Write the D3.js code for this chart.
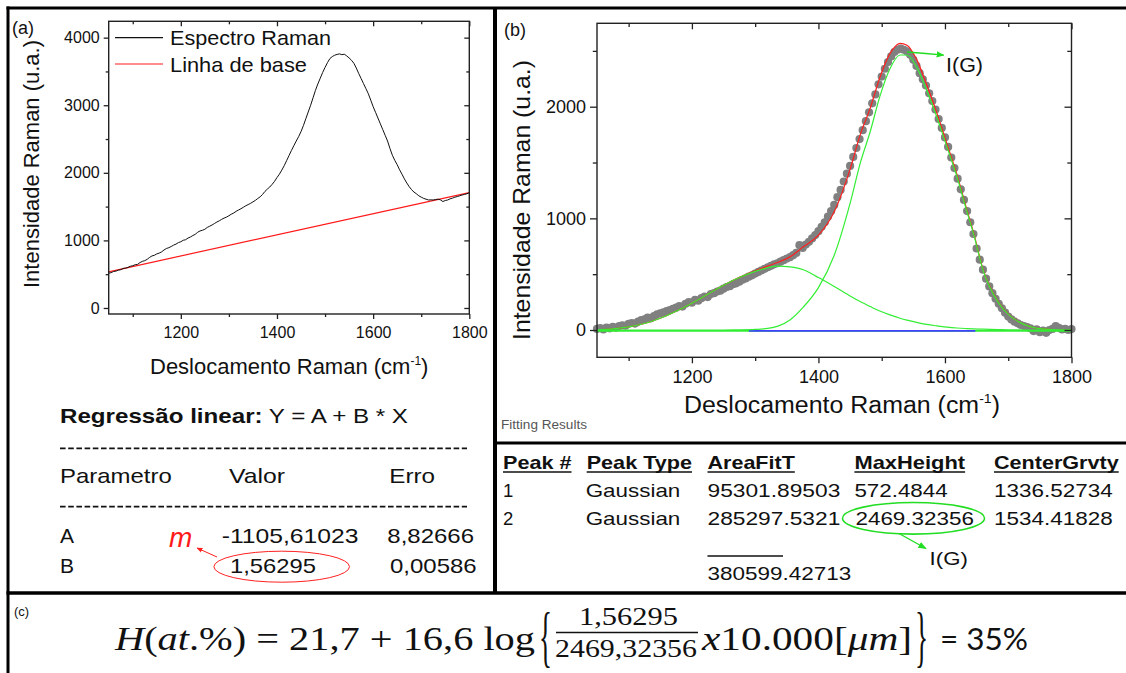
<!DOCTYPE html>
<html><head><meta charset="utf-8">
<script src="https://cdn.jsdelivr.net/npm/d3@7"></script>
<style>
body{margin:0;background:#fff}
svg{display:block}
text{font-family:"Liberation Sans",Arial,sans-serif}
</style>
</head><body>
<svg id="c" width="1126" height="673"></svg>
<script>
// ---------------- DATA ----------------
const xGrid = d3.range(1050, 1801, 5); // Raman shift grid (cm-1)
const spectrumA = [
515,522,540,545,560,566,585,590,600,618,
625,640,645,672,690,700,720,748,770,780,
800,812,830,858,880,892,910,930,945,968,
980,1002,1010,1035,1050,1072,1090,1120,1140,1150,
1165,1192,1210,1228,1250,1272,1290,1312,1330,1345,
1365,1388,1405,1430,1450,1468,1490,1512,1530,1548,
1570,1592,1620,1645,1680,1725,1760,1790,1830,1875,
1930,1980,2040,2105,2180,2255,2330,2400,2470,2535,
2610,2700,2800,2900,3000,3110,3220,3315,3400,3485,
3560,3630,3690,3720,3740,3752,3760,3748,3755,3730,
3700,3665,3620,3550,3470,3395,3320,3245,3170,3075,
2980,2895,2810,2725,2640,2555,2470,2360,2260,2185,
2120,2045,1980,1910,1850,1795,1750,1715,1690,1660,
1640,1622,1610,1598,1600,1598,1605,1610,1600,1575,
1590,1598,1615,1625,1640,1648,1660,1672,1680,1690,
1705];
const baselineX = [1050, 1800];
const baselineY = [535.5, 1707.7];

const scatterB = [
10,18,5,22,15,28,20,35,42,38,
55,62,58,75,88,95,110,105,125,140,
150,158,170,178,190,200,215,210,235,250,
245,270,262,285,300,295,322,330,345,352,
370,385,392,410,418,432,450,462,478,490,
505,520,535,548,562,575,588,598,612,625,
640,652,670,690,760,735,765,790,820,850,
885,925,965,1015,1065,1120,1190,1255,1330,1400,
1470,1550,1630,1710,1790,1870,1950,2030,2110,2200,
2270,2340,2400,2450,2490,2510,2520,2510,2495,2465,
2420,2365,2300,2245,2190,2120,2050,1975,1890,1810,
1725,1640,1545,1450,1355,1260,1165,1065,965,860,
730,630,540,460,390,330,280,235,195,155,
120,95,75,60,45,35,25,15,-10,5,
-20,-5,-25,0,10,35,20,5,10,0,
8];
const fitX  = [1050,1075,1100,1125,1150,1175,1200,1225,1250,1275,1300,1320,1336,1355,1376,1400,1425,1450,1466,1482,1497,1513,1529,1540,1555,1571,1587,1603,1619,1634,1645,1660,1684,1700,1716,1747,1780,1800];
const peak1 = [2,10,28,58,105,168,240,320,400,470,525,558,572,565,540,470,390,305,255,210,170,135,105,88,68,50,37,26,18,13,10,7,4,2,1,0,0,0];
const peak2 = [0,0,0,0,0,0,0,0,0,1,5,14,35,90,205,380,670,1134,1493,1780,2090,2340,2463,2463,2358,2149,1910,1642,1373,1075,866,540,250,140,75,15,2,0];
const fitSum = [2,10,28,58,105,168,240,320,400,471,530,572,607,655,745,850,1060,1439,1748,1990,2260,2475,2568,2551,2426,2199,1947,1668,1391,1088,876,547,254,142,76,15,2,0];
const fitBaseX = [1050, 1800];
const fitBaseY = [-8, -8];
const blueX = [1290, 1648];
const blueY = [-8, -8];

const xTicks = [1200, 1400, 1600, 1800];
const xMinor = [1100, 1300, 1500, 1700];
const yTicksA = [0, 1000, 2000, 3000, 4000];
const yMinorA = [500, 1500, 2500, 3500];
const yTicksB = [0, 1000, 2000];
const yMinorB = [500, 1500, 2500];

const legendA = ["Espectro Raman", "Linha de base"];
const regParams = ["A", "B"];
const regValues = ["-1105,61023", "1,56295"];
const regErrors = ["8,82666", "0,00586"];
const peakHeaders = ["Peak #", "Peak Type", "AreaFitT", "MaxHeight", "CenterGrvty"];
const peakRow1 = ["1", "Gaussian", "95301.89503", "572.4844", "1336.52734"];
const peakRow2 = ["2", "Gaussian", "285297.5321", "2469.32356", "1534.41828"];
const areaTotal = "380599.42713";

// ---------------- DRAW ----------------
const svg = d3.select("#c");
svg.append("rect").attr("width",1126).attr("height",673).attr("fill","#fff");
const defs = svg.append("defs");
defs.append("marker").attr("id","arrR").attr("viewBox","0 0 10 10").attr("refX",9).attr("refY",5)
  .attr("markerWidth",6).attr("markerHeight",6).attr("orient","auto")
  .append("path").attr("d","M0,1 L10,5 L0,9 Z").attr("fill","#ff2020");
defs.append("marker").attr("id","arrG").attr("viewBox","0 0 10 10").attr("refX",9).attr("refY",5)
  .attr("markerWidth",6).attr("markerHeight",6).attr("orient","auto")
  .append("path").attr("d","M0,1 L10,5 L0,9 Z").attr("fill","#22dd22");

function T(x, y, str, o = {}) {
  const t = svg.append("text").attr("x", x).attr("y", y).text(str)
    .attr("font-size", o.size || 18).attr("fill", o.fill || "#111");
  if (o.weight) t.attr("font-weight", o.weight);
  if (o.anchor) t.attr("text-anchor", o.anchor);
  if (o.style) t.attr("font-style", o.style);
  if (o.family) t.style("font-family", o.family);
  if (o.len) t.attr("textLength", o.len).attr("lengthAdjust", "spacingAndGlyphs");
  return t;
}

function frame(x, y, opts) {
  const [x0, x1] = x.range(), [y0, y1] = y.range();
  const g = svg.append("g");
  const fmt = d => d;
  g.append("g").attr("transform", `translate(0,${y0})`)
    .call(d3.axisBottom(x).tickValues(xTicks).tickSize(opts.tb).tickPadding(opts.padX).tickFormat(fmt));
  g.append("g").attr("transform", `translate(0,${y0})`)
    .call(d3.axisBottom(x).tickValues(xMinor).tickSize(opts.tb * 0.6).tickFormat(""));
  g.append("g").attr("transform", `translate(0,${y1})`)
    .call(d3.axisTop(x).tickValues(xTicks).tickSize(-opts.tb).tickFormat(""));
  g.append("g").attr("transform", `translate(0,${y1})`)
    .call(d3.axisTop(x).tickValues(xMinor).tickSize(-opts.tb * 0.6).tickFormat(""));
  g.append("g").attr("transform", `translate(${x0},0)`)
    .call(d3.axisLeft(y).tickValues(opts.yt).tickSize(opts.tl).tickPadding(opts.padY).tickFormat(fmt));
  g.append("g").attr("transform", `translate(${x0},0)`)
    .call(d3.axisLeft(y).tickValues(opts.ym).tickSize(opts.tl * 0.6).tickFormat(""));
  g.append("g").attr("transform", `translate(${x1},0)`)
    .call(d3.axisRight(y).tickValues(opts.yt).tickSize(-opts.tl).tickFormat(""));
  g.append("g").attr("transform", `translate(${x1},0)`)
    .call(d3.axisRight(y).tickValues(opts.ym).tickSize(-opts.tl * 0.6).tickFormat(""));
  g.selectAll(".domain").remove();
  g.selectAll("line").attr("stroke", "#222").attr("stroke-width", 1.3);
  g.selectAll("text").attr("font-size", opts.fs).attr("fill", "#111")
    .style("font-family", '"Liberation Sans",Arial,sans-serif');
  g.append("rect").attr("x", x0).attr("y", y1).attr("width", x1 - x0).attr("height", y0 - y1)
    .attr("fill", "none").attr("stroke", "#222").attr("stroke-width", 1.4);
  return g;
}

// ---------- Panel (a) ----------
const xA = d3.scaleLinear().domain([1050, 1800]).range([108.7, 469.3]);
const yA = d3.scaleLinear().domain([-89, 4242]).range([314, 21.3]);
const clipA = defs.append("clipPath").attr("id", "clipA");
clipA.append("rect").attr("x", 108.7).attr("y", 21.3).attr("width", 360.6).attr("height", 292.7);

svg.append("path").attr("clip-path", "url(#clipA)")
  .datum(baselineX.map((v, i) => [v, baselineY[i]]))
  .attr("d", d3.line().x(d => xA(d[0])).y(d => yA(d[1])))
  .attr("fill", "none").attr("stroke", "#ff1a1a").attr("stroke-width", 1.2);
svg.append("path").attr("clip-path", "url(#clipA)")
  .datum(xGrid.map((v, i) => [v, spectrumA[i]]))
  .attr("d", d3.line().x(d => xA(d[0])).y(d => yA(d[1])))
  .attr("fill", "none").attr("stroke", "#111").attr("stroke-width", 1);

frame(xA, yA, {tb: 5, tl: 5, padX: 8, padY: 4, yt: yTicksA, ym: yMinorA, fs: 16});

svg.append("line").attr("x1", 115).attr("x2", 163).attr("y1", 37.7).attr("y2", 37.7).attr("stroke", "#111").attr("stroke-width", 1.2);
T(170, 44.5, legendA[0], {size: 21, len: 161});
svg.append("line").attr("x1", 115).attr("x2", 163).attr("y1", 64).attr("y2", 64).attr("stroke", "#ff1a1a").attr("stroke-width", 1.2);
T(170, 71.5, legendA[1], {size: 21, len: 137});
T(12, 34, "(a)", {size: 18});

svg.append("text").attr("transform", "translate(31.7,164) rotate(-90)")
  .attr("text-anchor", "middle").attr("dominant-baseline", "central")
  .attr("font-size", 22).attr("fill", "#111").attr("textLength", 248).attr("lengthAdjust", "spacingAndGlyphs")
  .text("Intensidade Raman (u.a.)");
const xlA = svg.append("text").attr("x", 150).attr("y", 374).attr("font-size", 22).attr("fill", "#111");
xlA.append("tspan").text("Deslocamento Raman (cm");
xlA.append("tspan").attr("dy", -9).attr("font-size", 12).text("-1");
xlA.append("tspan").attr("dy", 9).text(")");

const rg = svg.append("text").attr("x", 60).attr("y", 423).attr("font-size", 21).attr("fill", "#111")
  .attr("textLength", 348).attr("lengthAdjust", "spacingAndGlyphs");
rg.append("tspan").attr("font-weight", "bold").text("Regressão linear:");
rg.append("tspan").text(" Y = A + B * X");
[448.3, 506.7].forEach(yy => svg.append("line").attr("x1", 60).attr("x2", 467).attr("y1", yy).attr("y2", yy)
  .attr("stroke", "#111").attr("stroke-width", 1.8).attr("stroke-dasharray", "5.6,2.6"));
T(60, 483, "Parametro", {size: 21, len: 111.7});
T(229, 483, "Valor", {size: 21, len: 56});
T(389.3, 483, "Erro", {size: 21, len: 45.7});
const rowY = [542.7, 572.7];
T(60, rowY[0], regParams[0], {size: 21});
T(60, rowY[1], regParams[1], {size: 21});
T(221.7, rowY[0], regValues[0], {size: 21, len: 136.7});
T(230, rowY[1], regValues[1], {size: 21, len: 86});
T(387.3, rowY[0], regErrors[0], {size: 21, len: 86.7});
T(390, rowY[1], regErrors[1], {size: 21, len: 86.7});
T(169, 546.7, "m", {size: 28, style: "italic", fill: "#ff1a1a"});
svg.append("ellipse").attr("cx", 281.7).attr("cy", 566.7).attr("rx", 67.8).attr("ry", 15.5)
  .attr("fill", "none").attr("stroke", "#ff2020").attr("stroke-width", 1);
svg.append("line").attr("x1", 217).attr("y1", 557).attr("x2", 197).attr("y2", 548)
  .attr("stroke", "#ff2020").attr("stroke-width", 1).attr("marker-end", "url(#arrR)");

// ---------- Panel (b) ----------
const xB = d3.scaleLinear().domain([1050, 1800]).range([597, 1071.5]);
const yB = d3.scaleLinear().domain([-244.5, 2747]).range([357.3, 23.3]);
const clipB = defs.append("clipPath").attr("id", "clipB");
clipB.append("rect").attr("x", 590).attr("y", 23.3).attr("width", 488).attr("height", 334);

const gB = svg.append("g").attr("clip-path", "url(#clipB)");
gB.selectAll("circle").data(xGrid.map((v, i) => [v, scatterB[i]])).join("circle")
  .attr("cx", d => xB(d[0])).attr("cy", d => yB(d[1])).attr("r", 4.1).attr("fill", "#808080");
const lineB = d3.line().x(d => xB(d[0])).y(d => yB(d[1])).curve(d3.curveMonotoneX);
gB.append("path").datum(fitX.map((v, i) => [v, fitSum[i]])).attr("d", lineB)
  .attr("fill", "none").attr("stroke", "#ff2020").attr("stroke-width", 1.2);
gB.append("path").datum(fitBaseX.map((v, i) => [v, fitBaseY[i]])).attr("d", lineB)
  .attr("fill", "none").attr("stroke", "#33ee33").attr("stroke-width", 1.6);
gB.append("path").datum(blueX.map((v, i) => [v, blueY[i]])).attr("d", lineB)
  .attr("fill", "none").attr("stroke", "#4040ff").attr("stroke-width", 1.6);
[peak1, peak2].forEach(p => gB.append("path").datum(fitX.map((v, i) => [v, p[i]])).attr("d", lineB)
  .attr("fill", "none").attr("stroke", "#33ee33").attr("stroke-width", 1.2));

frame(xB, yB, {tb: 6, tl: 7, padX: 7, padY: 4, yt: yTicksB, ym: yMinorB, fs: 18});

T(504, 36, "(b)", {size: 18});
svg.append("text").attr("transform", "translate(521,200) rotate(-90)")
  .attr("text-anchor", "middle").attr("dominant-baseline", "central")
  .attr("font-size", 24).attr("fill", "#111").attr("textLength", 280).attr("lengthAdjust", "spacingAndGlyphs")
  .text("Intensidade Raman (u.a.)");
const xlB = svg.append("text").attr("x", 684).attr("y", 413).attr("font-size", 23).attr("fill", "#111")
  .attr("textLength", 316).attr("lengthAdjust", "spacingAndGlyphs");
xlB.append("tspan").text("Deslocamento Raman (cm");
xlB.append("tspan").attr("dy", -10).attr("font-size", 13).text("-1");
xlB.append("tspan").attr("dy", 10).text(")");

svg.append("path").attr("d", `M${xB(1540)},${yB(2490)} Q${xB(1570)},${yB(2478)} ${xB(1598)},${yB(2462)}`)
  .attr("fill", "none").attr("stroke", "#22dd22").attr("stroke-width", 1.3).attr("marker-end", "url(#arrG)");
T(946, 72, "I(G)", {size: 21, len: 37});
T(501, 429, "Fitting Results", {size: 12, fill: "#555", len: 86});

// Table
const colX = [503, 586.7, 707.5, 854.4, 994];
const hdrW = [68.5, 105.3, 87.3, 110.7, 124.7];
peakHeaders.forEach((h, i) => {
  T(colX[i], 469.3, h, {size: 18.5, weight: "bold", len: hdrW[i]});
  svg.append("line").attr("x1", colX[i]).attr("x2", colX[i] + hdrW[i]).attr("y1", 472).attr("y2", 472)
    .attr("stroke", "#111").attr("stroke-width", 1.3);
});
const cellW = [null, 94.6, 132.8, 93.3, 118.7];
const cellW2 = [null, 94.6, 132.8, 118.7, 118.7];
peakRow1.forEach((v, i) => T(colX[i] + (i === 1 ? -1 : 0), 496.7, v, {size: 18.5, len: cellW[i]}));
peakRow2.forEach((v, i) => T(colX[i] + (i === 1 ? -1 : 0) + (i === 3 ? 1 : 0), 525, v, {size: 18.5, len: cellW2[i]}));
svg.append("line").attr("x1", 707.5).attr("x2", 783).attr("y1", 556).attr("y2", 556).attr("stroke", "#111").attr("stroke-width", 1.5);
T(707.5, 580, areaTotal, {size: 18.5, len: 143.7});
svg.append("ellipse").attr("cx", 913.5).attr("cy", 518.3).attr("rx", 71).attr("ry", 15.8)
  .attr("fill", "none").attr("stroke", "#22dd22").attr("stroke-width", 1.6);
svg.append("line").attr("x1", 899).attr("y1", 533.5).attr("x2", 926).attr("y2", 548.5)
  .attr("stroke", "#22dd22").attr("stroke-width", 1.4).attr("marker-end", "url(#arrG)");
T(929.6, 565, "I(G)", {size: 18.5, len: 38.2});

// ---------- Panel (c) ----------
T(14, 616, "(c)", {size: 13});
const serif = '"Liberation Serif","DejaVu Serif",serif';
const f1 = svg.append("text").attr("x", 115).attr("y", 650).attr("font-size", 34).attr("fill", "#111")
  .style("font-family", serif).attr("textLength", 420).attr("lengthAdjust", "spacingAndGlyphs");
f1.append("tspan").attr("font-style", "italic").text("H");
f1.append("tspan").text("(");
f1.append("tspan").attr("font-style", "italic").text("at");
f1.append("tspan").text(".%) = 21,7 + 16,6 log");
svg.append("text").attr("transform", "translate(539,659) scale(0.4,1)").attr("font-size", 68)
  .style("font-family", serif).attr("fill", "#111").text("{");
T(628.5, 625, "1,56295", {size: 25, anchor: "middle", len: 99, family: serif});
svg.append("line").attr("x1", 556).attr("x2", 698).attr("y1", 632.5).attr("y2", 632.5).attr("stroke", "#111").attr("stroke-width", 1.3);
T(626, 657, "2469,32356", {size: 25, anchor: "middle", len: 142, family: serif});
const f2 = svg.append("text").attr("x", 702).attr("y", 650).attr("font-size", 34).attr("fill", "#111")
  .style("font-family", serif).attr("textLength", 210).attr("lengthAdjust", "spacingAndGlyphs");
f2.append("tspan").attr("font-style", "italic").text("x");
f2.append("tspan").text("10.000[");
f2.append("tspan").attr("font-style", "italic").text("μm");
f2.append("tspan").text("]");
svg.append("text").attr("transform", "translate(915,659) scale(0.4,1)").attr("font-size", 68)
  .style("font-family", serif).attr("fill", "#111").text("}");
T(940, 650, "= 35%", {size: 30, len: 88, family: "Lato,'Liberation Sans',sans-serif"});

// ---------- Frame lines ----------
const fl = (x1, y1, x2, y2, w) => svg.append("line").attr("x1", x1).attr("y1", y1).attr("x2", x2).attr("y2", y2)
  .attr("stroke", "#000").attr("stroke-width", w);
fl(6.5, 8, 1126, 8, 3);
fl(8, 6.5, 8, 673, 3);
fl(495, 8, 495, 594, 4);
fl(6.5, 593, 1126, 593, 3.5);
fl(495, 443, 1126, 443, 3);
</script>
</body></html>
